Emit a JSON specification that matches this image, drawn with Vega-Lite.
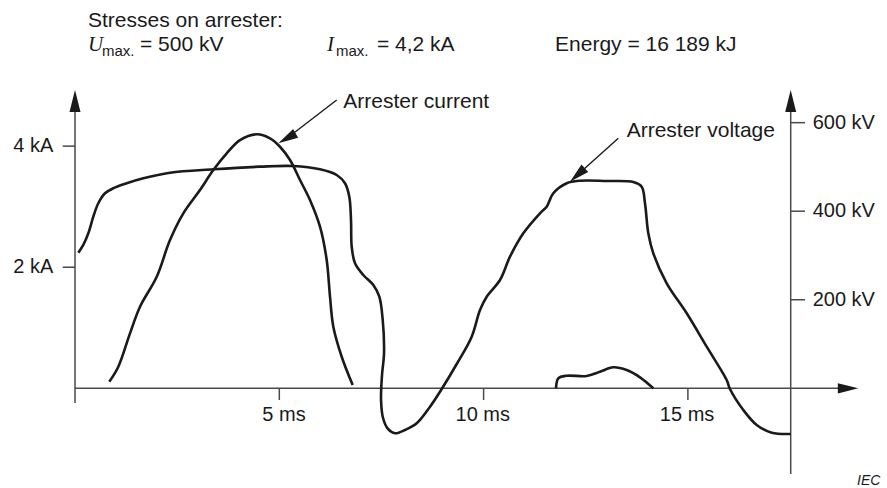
{
  "$schema": "https://vega.github.io/schema/vega-lite/v6.json",
  "width": 787,
  "height": 386,
  "autosize": "none",
  "padding": {"left": 75, "top": 88, "right": 25, "bottom": 14},
  "background": "white",
  "config": {"view": {"stroke": null}},
  "datasets": {
    "current": [
      {"i": 0, "t": 0.839, "kA": 0.109},
      {"i": 1, "t": 1.06, "kA": 0.357},
      {"i": 2, "t": 1.346, "kA": 0.908},
      {"i": 3, "t": 1.591, "kA": 1.348},
      {"i": 4, "t": 2.0, "kA": 1.843},
      {"i": 5, "t": 2.325, "kA": 2.449},
      {"i": 6, "t": 2.651, "kA": 2.89},
      {"i": 7, "t": 3.059, "kA": 3.275},
      {"i": 8, "t": 3.385, "kA": 3.605},
      {"i": 9, "t": 3.713, "kA": 3.881},
      {"i": 10, "t": 4.038, "kA": 4.1},
      {"i": 11, "t": 4.447, "kA": 4.195},
      {"i": 12, "t": 4.772, "kA": 4.129},
      {"i": 13, "t": 5.017, "kA": 3.99},
      {"i": 14, "t": 5.262, "kA": 3.77},
      {"i": 15, "t": 5.507, "kA": 3.44},
      {"i": 16, "t": 5.751, "kA": 3.11},
      {"i": 17, "t": 5.996, "kA": 2.669},
      {"i": 18, "t": 6.16, "kA": 2.119},
      {"i": 19, "t": 6.241, "kA": 1.513},
      {"i": 20, "t": 6.322, "kA": 1.017},
      {"i": 21, "t": 6.527, "kA": 0.522},
      {"i": 22, "t": 6.796, "kA": 0.055}
    ],
    "bump": [
      {"i": 0, "t": 11.772, "kA": 0.0},
      {"i": 1, "t": 11.828, "kA": 0.165},
      {"i": 2, "t": 12.034, "kA": 0.208},
      {"i": 3, "t": 12.523, "kA": 0.203},
      {"i": 4, "t": 12.849, "kA": 0.274},
      {"i": 5, "t": 13.174, "kA": 0.347},
      {"i": 6, "t": 13.502, "kA": 0.302},
      {"i": 7, "t": 13.828, "kA": 0.182},
      {"i": 8, "t": 14.154, "kA": 0.0}
    ],
    "voltage": [
      {"i": 0, "t": 0.081, "kV": 306.3},
      {"i": 1, "t": 0.203, "kV": 323.7},
      {"i": 2, "t": 0.326, "kV": 350.1},
      {"i": 3, "t": 0.448, "kV": 387.6},
      {"i": 4, "t": 0.57, "kV": 417.9},
      {"i": 5, "t": 0.734, "kV": 440.5},
      {"i": 6, "t": 0.937, "kV": 451.8},
      {"i": 7, "t": 1.265, "kV": 463.1},
      {"i": 8, "t": 1.672, "kV": 474.4},
      {"i": 9, "t": 2.325, "kV": 487.0},
      {"i": 10, "t": 3.385, "kV": 494.7},
      {"i": 11, "t": 4.528, "kV": 500.6},
      {"i": 12, "t": 5.343, "kV": 502.1},
      {"i": 13, "t": 5.996, "kV": 494.7},
      {"i": 14, "t": 6.405, "kV": 481.8},
      {"i": 15, "t": 6.608, "kV": 463.1},
      {"i": 16, "t": 6.713, "kV": 432.8},
      {"i": 17, "t": 6.755, "kV": 380.2},
      {"i": 18, "t": 6.772, "kV": 319.9},
      {"i": 19, "t": 6.853, "kV": 282.4},
      {"i": 20, "t": 7.056, "kV": 255.9},
      {"i": 21, "t": 7.301, "kV": 233.3},
      {"i": 22, "t": 7.448, "kV": 206.9},
      {"i": 23, "t": 7.531, "kV": 154.3},
      {"i": 24, "t": 7.563, "kV": 79.1},
      {"i": 25, "t": 7.514, "kV": 30.0},
      {"i": 26, "t": 7.49, "kV": -26.4},
      {"i": 27, "t": 7.539, "kV": -67.1},
      {"i": 28, "t": 7.66, "kV": -91.9},
      {"i": 29, "t": 7.832, "kV": -101.6},
      {"i": 30, "t": 8.077, "kV": -94.2},
      {"i": 31, "t": 8.363, "kV": -79.1},
      {"i": 32, "t": 8.689, "kV": -41.6},
      {"i": 33, "t": 8.975, "kV": -1.6},
      {"i": 34, "t": 9.342, "kV": 54.9},
      {"i": 35, "t": 9.709, "kV": 116.6},
      {"i": 36, "t": 9.912, "kV": 176.9},
      {"i": 37, "t": 10.076, "kV": 206.9},
      {"i": 38, "t": 10.401, "kV": 244.6},
      {"i": 39, "t": 10.646, "kV": 297.3},
      {"i": 40, "t": 10.972, "kV": 350.1},
      {"i": 41, "t": 11.38, "kV": 395.3},
      {"i": 42, "t": 11.544, "kV": 410.2},
      {"i": 43, "t": 11.706, "kV": 440.5},
      {"i": 44, "t": 12.034, "kV": 463.1},
      {"i": 45, "t": 12.359, "kV": 468.9},
      {"i": 46, "t": 13.013, "kV": 468.3},
      {"i": 47, "t": 13.664, "kV": 466.0},
      {"i": 48, "t": 13.869, "kV": 455.4},
      {"i": 49, "t": 13.95, "kV": 417.9},
      {"i": 50, "t": 14.031, "kV": 350.1},
      {"i": 51, "t": 14.153, "kV": 304.9},
      {"i": 52, "t": 14.481, "kV": 237.2},
      {"i": 53, "t": 14.971, "kV": 169.4},
      {"i": 54, "t": 15.46, "kV": 94.0},
      {"i": 55, "t": 15.949, "kV": 18.7},
      {"i": 56, "t": 16.03, "kV": -1.6},
      {"i": 57, "t": 16.356, "kV": -49.0},
      {"i": 58, "t": 16.684, "kV": -82.9},
      {"i": 59, "t": 17.051, "kV": -100.3},
      {"i": 60, "t": 17.516, "kV": -103.2}
    ],
    "axisLines": [
      {"t": 0, "kA": -0.243, "t2": 0, "kA2": 4.76},
      {"t": 0, "kA": 0, "t2": 18.9, "kA2": 0},
      {"t": 17.516, "kA": -1.415, "t2": 17.516, "kA2": 4.76},
      {"t": -0.301, "kA": 2, "t2": 0, "kA2": 2},
      {"t": -0.301, "kA": 4, "t2": 0, "kA2": 4},
      {"t": 5, "kA": 0, "t2": 5, "kA2": -0.193},
      {"t": 10, "kA": 0, "t2": 10, "kA2": -0.193},
      {"t": 15, "kA": 0, "t2": 15, "kA2": -0.193}
    ],
    "kvTicks": [
      {"t": 17.516, "kV": 200, "t2": 17.866, "label": "200 kV"},
      {"t": 17.516, "kV": 400, "t2": 17.866, "label": "400 kV"},
      {"t": 17.516, "kV": 600, "t2": 17.866, "label": "600 kV"}
    ],
    "upArrows": [
      {"t": 0, "kA": 4.745},
      {"t": 17.516, "kA": 4.745}
    ],
    "rightArrow": [
      {"t": 18.92, "kA": 0}
    ],
    "pointers": [
      {"t": 6.405, "kA": 4.761, "t2": 5.188, "kA2": 4.129},
      {"t": 13.297, "kA": 4.129, "t2": 12.296, "kA2": 3.523}
    ],
    "kaLabels": [
      {"t": -0.531, "kA": 2, "label": "2 kA"},
      {"t": -0.531, "kA": 4, "label": "4 kA"}
    ],
    "msLabels": [
      {"t": 5.115, "kA": -0.535, "label": "5 ms"},
      {"t": 9.98, "kA": -0.535, "label": "10 ms"},
      {"t": 14.98, "kA": -0.535, "label": "15 ms"}
    ],
    "texts": [
      {"t": 6.566, "kA": 4.634, "label": "Arrester current"},
      {"t": 13.502, "kA": 4.155, "label": "Arrester voltage"},
      {"t": 0.318, "kA": 5.967, "label": "Stresses on arrester:"},
      {"t": 1.591, "kA": 5.571, "label": "= 500 kV"},
      {"t": 7.391, "kA": 5.571, "label": "= 4,2 kA"},
      {"t": 11.748, "kA": 5.571, "label": "Energy = 16 189 kJ"}
    ],
    "symbols": [
      {"t": 0.318, "kA": 5.571, "label": "U"},
      {"t": 6.167, "kA": 5.571, "label": "I"}
    ],
    "subs": [
      {"t": 0.661, "kA": 5.488, "label": "max."},
      {"t": 6.388, "kA": 5.488, "label": "max."}
    ],
    "mark": [
      {"t": 19.14, "kA": -1.597, "label": "IEC"}
    ]
  },
  "layer": [
    {
      "data": {"name": "axisLines"},
      "mark": {"type": "rule", "color": "#4a4a4a", "strokeWidth": 1.5},
      "encoding": {
        "x": {"field": "t", "type": "quantitative", "scale": {"domain": [0, 19.261], "nice": false, "zero": false}, "axis": null},
        "y": {"field": "kA", "type": "quantitative", "scale": {"domain": [-1.415, 4.96], "nice": false, "zero": false}, "axis": null},
        "x2": {"field": "t2"},
        "y2": {"field": "kA2"}
      }
    },
    {
      "data": {"name": "kvTicks"},
      "mark": {"type": "rule", "color": "#4a4a4a", "strokeWidth": 1.5},
      "encoding": {
        "x": {"field": "t", "type": "quantitative", "scale": {"domain": [0, 19.261], "nice": false, "zero": false}, "axis": null},
        "y": {"field": "kV", "type": "quantitative", "scale": {"domain": [-193.6, 678.3], "nice": false, "zero": false}, "axis": null},
        "x2": {"field": "t2"}
      }
    },
    {
      "data": {"name": "kvTicks"},
      "mark": {"type": "text", "align": "left", "baseline": "middle", "font": "Liberation Sans", "fontSize": 20, "color": "#1a1a1a"},
      "encoding": {
        "x": {"field": "t2", "type": "quantitative", "scale": {"domain": [-0.188, 19.073], "nice": false, "zero": false}, "axis": null},
        "y": {"field": "kV", "type": "quantitative", "scale": {"domain": [-193.6, 678.3], "nice": false, "zero": false}, "axis": null},
        "text": {"field": "label"}
      }
    },
    {
      "data": {"name": "upArrows"},
      "mark": {"type": "point", "shape": "M0,-1L0.5,1L-0.5,1Z", "size": 484, "filled": true, "color": "#1a1a1a", "opacity": 1, "strokeWidth": 0},
      "encoding": {
        "x": {"field": "t", "type": "quantitative", "scale": {"domain": [0, 19.261], "nice": false, "zero": false}, "axis": null},
        "y": {"field": "kA", "type": "quantitative", "scale": {"domain": [-1.415, 4.96], "nice": false, "zero": false}, "axis": null}
      }
    },
    {
      "data": {"name": "rightArrow"},
      "mark": {"type": "point", "shape": "M1,0L-1,0.5L-1,-0.5Z", "size": 420, "filled": true, "color": "#1a1a1a", "opacity": 1, "strokeWidth": 0},
      "encoding": {
        "x": {"field": "t", "type": "quantitative", "scale": {"domain": [0, 19.261], "nice": false, "zero": false}, "axis": null},
        "y": {"field": "kA", "type": "quantitative", "scale": {"domain": [-1.415, 4.96], "nice": false, "zero": false}, "axis": null}
      }
    },
    {
      "data": {"name": "current"},
      "mark": {"type": "line", "color": "#1a1a1a", "strokeWidth": 2.6, "interpolate": "catmull-rom"},
      "encoding": {
        "x": {"field": "t", "type": "quantitative", "scale": {"domain": [0, 19.261], "nice": false, "zero": false}, "axis": null},
        "y": {"field": "kA", "type": "quantitative", "scale": {"domain": [-1.415, 4.96], "nice": false, "zero": false}, "axis": null},
        "order": {"field": "i", "type": "quantitative"}
      }
    },
    {
      "data": {"name": "bump"},
      "mark": {"type": "line", "color": "#1a1a1a", "strokeWidth": 2.6, "interpolate": "catmull-rom"},
      "encoding": {
        "x": {"field": "t", "type": "quantitative", "scale": {"domain": [0, 19.261], "nice": false, "zero": false}, "axis": null},
        "y": {"field": "kA", "type": "quantitative", "scale": {"domain": [-1.415, 4.96], "nice": false, "zero": false}, "axis": null},
        "order": {"field": "i", "type": "quantitative"}
      }
    },
    {
      "data": {"name": "voltage"},
      "mark": {"type": "line", "color": "#1a1a1a", "strokeWidth": 2.6, "interpolate": "catmull-rom"},
      "encoding": {
        "x": {"field": "t", "type": "quantitative", "scale": {"domain": [0, 19.261], "nice": false, "zero": false}, "axis": null},
        "y": {"field": "kV", "type": "quantitative", "scale": {"domain": [-193.6, 678.3], "nice": false, "zero": false}, "axis": null},
        "order": {"field": "i", "type": "quantitative"}
      }
    },
    {
      "data": {"name": "pointers"},
      "mark": {"type": "rule", "color": "#1a1a1a", "strokeWidth": 1.4},
      "encoding": {
        "x": {"field": "t", "type": "quantitative", "scale": {"domain": [0, 19.261], "nice": false, "zero": false}, "axis": null},
        "y": {"field": "kA", "type": "quantitative", "scale": {"domain": [-1.415, 4.96], "nice": false, "zero": false}, "axis": null},
        "x2": {"field": "t2"},
        "y2": {"field": "kA2"}
      }
    },
    {
      "data": {"name": "pointers"},
      "transform": [{"filter": "datum.t < 10"}],
      "mark": {"type": "point", "shape": "M0,-1L0.5,1L-0.5,1Z", "size": 400, "filled": true, "color": "#1a1a1a", "opacity": 1, "strokeWidth": 0, "angle": 240},
      "encoding": {
        "x": {"field": "t2", "type": "quantitative", "scale": {"domain": [0, 19.261], "nice": false, "zero": false}, "axis": null},
        "y": {"field": "kA2", "type": "quantitative", "scale": {"domain": [-1.415, 4.96], "nice": false, "zero": false}, "axis": null}
      }
    },
    {
      "data": {"name": "pointers"},
      "transform": [{"filter": "datum.t > 10"}],
      "mark": {"type": "point", "shape": "M0,-1L0.5,1L-0.5,1Z", "size": 400, "filled": true, "color": "#1a1a1a", "opacity": 1, "strokeWidth": 0, "angle": 228},
      "encoding": {
        "x": {"field": "t2", "type": "quantitative", "scale": {"domain": [0, 19.261], "nice": false, "zero": false}, "axis": null},
        "y": {"field": "kA2", "type": "quantitative", "scale": {"domain": [-1.415, 4.96], "nice": false, "zero": false}, "axis": null}
      }
    },
    {
      "data": {"name": "kaLabels"},
      "mark": {"type": "text", "align": "right", "baseline": "middle", "font": "Liberation Sans", "fontSize": 20, "color": "#1a1a1a"},
      "encoding": {
        "x": {"field": "t", "type": "quantitative", "scale": {"domain": [0, 19.261], "nice": false, "zero": false}, "axis": null},
        "y": {"field": "kA", "type": "quantitative", "scale": {"domain": [-1.415, 4.96], "nice": false, "zero": false}, "axis": null},
        "text": {"field": "label"}
      }
    },
    {
      "data": {"name": "msLabels"},
      "mark": {"type": "text", "align": "center", "baseline": "alphabetic", "font": "Liberation Sans", "fontSize": 20, "color": "#1a1a1a"},
      "encoding": {
        "x": {"field": "t", "type": "quantitative", "scale": {"domain": [0, 19.261], "nice": false, "zero": false}, "axis": null},
        "y": {"field": "kA", "type": "quantitative", "scale": {"domain": [-1.415, 4.96], "nice": false, "zero": false}, "axis": null},
        "text": {"field": "label"}
      }
    },
    {
      "data": {"name": "texts"},
      "mark": {"type": "text", "align": "left", "baseline": "alphabetic", "font": "Liberation Sans", "fontSize": 21, "color": "#1a1a1a"},
      "encoding": {
        "x": {"field": "t", "type": "quantitative", "scale": {"domain": [0, 19.261], "nice": false, "zero": false}, "axis": null},
        "y": {"field": "kA", "type": "quantitative", "scale": {"domain": [-1.415, 4.96], "nice": false, "zero": false}, "axis": null},
        "text": {"field": "label"}
      }
    },
    {
      "data": {"name": "symbols"},
      "mark": {"type": "text", "align": "left", "baseline": "alphabetic", "font": "Liberation Serif", "fontStyle": "italic", "fontSize": 21, "color": "#1a1a1a"},
      "encoding": {
        "x": {"field": "t", "type": "quantitative", "scale": {"domain": [0, 19.261], "nice": false, "zero": false}, "axis": null},
        "y": {"field": "kA", "type": "quantitative", "scale": {"domain": [-1.415, 4.96], "nice": false, "zero": false}, "axis": null},
        "text": {"field": "label"}
      }
    },
    {
      "data": {"name": "subs"},
      "mark": {"type": "text", "align": "left", "baseline": "alphabetic", "font": "Liberation Sans", "fontSize": 15, "color": "#1a1a1a"},
      "encoding": {
        "x": {"field": "t", "type": "quantitative", "scale": {"domain": [0, 19.261], "nice": false, "zero": false}, "axis": null},
        "y": {"field": "kA", "type": "quantitative", "scale": {"domain": [-1.415, 4.96], "nice": false, "zero": false}, "axis": null},
        "text": {"field": "label"}
      }
    },
    {
      "data": {"name": "mark"},
      "mark": {"type": "text", "align": "left", "baseline": "alphabetic", "font": "Liberation Sans", "fontStyle": "italic", "fontSize": 14, "color": "#1a1a1a"},
      "encoding": {
        "x": {"field": "t", "type": "quantitative", "scale": {"domain": [0, 19.261], "nice": false, "zero": false}, "axis": null},
        "y": {"field": "kA", "type": "quantitative", "scale": {"domain": [-1.415, 4.96], "nice": false, "zero": false}, "axis": null},
        "text": {"field": "label"}
      }
    }
  ],
  "resolve": {"scale": {"y": "independent", "x": "independent"}}
}
